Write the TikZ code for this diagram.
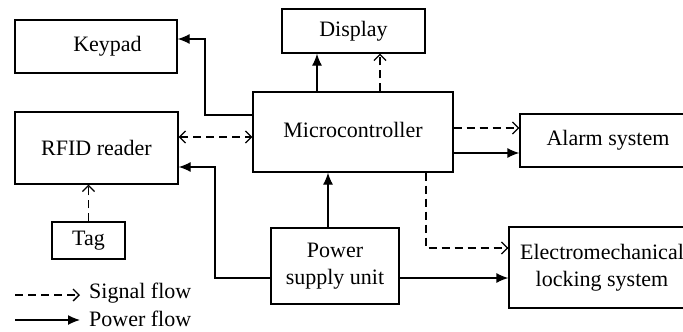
\documentclass[tikz,border=0pt]{standalone}
\usepackage{fontspec}
\setmainfont{Liberation Serif}
\usetikzlibrary{arrows.meta}
\begin{document}
\begin{tikzpicture}[x=1pt,y=-1pt,
  box/.style={draw,line width=1.3pt,inner sep=0pt,align=center,font=\fontsize{22}{27}\selectfont},
  pw/.style={line width=1.3pt,-{Latex[length=12pt,width=10pt]}},
  sg/.style={line width=1.3pt,dash pattern=on 8pt off 5pt,-{Straight Barb[length=6pt,width=12pt,line width=1.3pt]}},
  sgboth/.style={line width=1.3pt,dash pattern=on 8pt off 5pt,{Straight Barb[length=6pt,width=12pt,line width=1.3pt]}-{Straight Barb[length=6pt,width=12pt,line width=1.3pt]}},
  lbl/.style={anchor=west,inner sep=0pt,font=\fontsize{22}{27}\selectfont}]
\useasboundingbox (0,0) rectangle (683,332);
\node[box,minimum width=162pt,minimum height=53pt] (kp) at (96,46.5) {\hspace*{23pt}Keypad};
\node[box,minimum width=143pt,minimum height=44pt] (dp) at (353.5,31) {Display};
\node[box,minimum width=200pt,minimum height=80pt] (mc) at (353,132) {\raisebox{5pt}{Microcontroller}};
\node[box,minimum width=163pt,minimum height=72pt] (rf) at (96.5,148) {RFID reader};
\node[box,minimum width=176pt,minimum height=53pt] (al) at (608,140.5) {Alarm system};
\node[box,minimum width=73pt,minimum height=37pt] (tg) at (88.5,240.5) {Tag};
\node[box,minimum width=128pt,minimum height=76pt] (ps) at (335,266) {Power\\supply unit};
\node[box,minimum width=186pt,minimum height=81pt] (em) at (602,267.5) {Electromechanical\\locking system};
% connectors
\draw[pw] (mc.west |- 0,115) -- (205,115) -- (205,39) -- (kp.east |- 0,39);
\draw[pw] (mc.north -| 317,0) -- (dp.south -| 317,0);
\draw[sg] (mc.north -| 380,0) -- (dp.south -| 380,0);
\draw[sgboth] (rf.east |- 0,137) -- (mc.west |- 0,137);
\draw[pw] (ps.west |- 0,278) -- (215,278) -- (215,167) -- (rf.east |- 0,167);
\draw[sg] (tg.north) -- (tg.north |- rf.south);
\draw[pw] (ps.north -| 328,0) -- (mc.south -| 328,0);
\draw[sg] (mc.east |- 0,128) -- (al.west |- 0,128);
\draw[pw] (mc.east |- 0,153) -- (al.west |- 0,153);
\draw[sg] (mc.south -| 426,0) -- (426,248) -- (em.west |- 0,248);
\draw[pw] (ps.east |- 0,278) -- (em.west |- 0,278);
% legend
\coordinate (s1) at (15,295);
\coordinate (s2) at (80,295);
\coordinate (p1) at (15,320);
\coordinate (p2) at (80,320);
\draw[sg] (s1) -- (s2);
\draw[pw] (p1) -- (p2);
\node[lbl] (st) at (89,293) {Signal flow};
\node[lbl] (pt) at (89,319) {Power flow};
\end{tikzpicture}
\end{document}
